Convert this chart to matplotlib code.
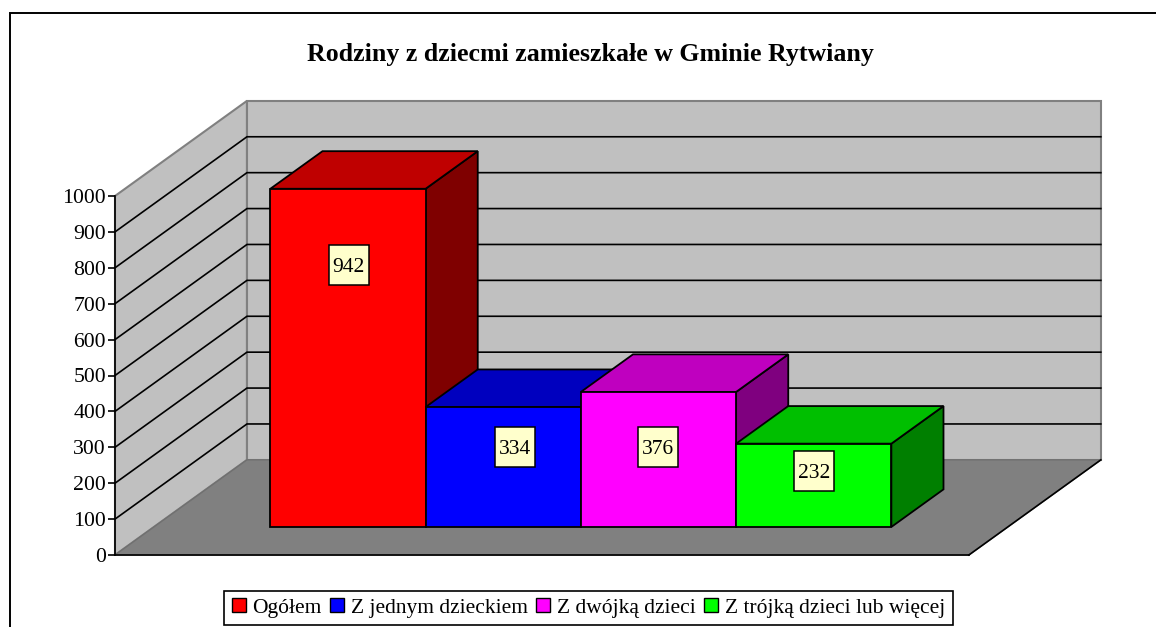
import matplotlib
matplotlib.use('Agg')
import matplotlib.pyplot as plt
from matplotlib.patches import Polygon, Rectangle, Patch

plt.rcParams['font.family'] = ['Liberation Serif', 'DejaVu Serif']

# data
series = ['Ogółem', 'Z jednym dzieckiem', 'Z dwójką dzieci', 'Z trójką dzieci lub więcej']
values = [942, 334, 376, 232]
front_colors = ['#FF0000', '#0000FF', '#FF00FF', '#00FF00']
top_colors = ['#BF0000', '#0000BF', '#BF00BF', '#00BF00']
side_colors = ['#7F0000', '#00007F', '#7F007F', '#007F00']
y_ticks = list(range(0, 1001, 100))

# where the value boxes sit (bar units, value units)
label_x = [1.505, 2.575, 3.495, 4.505]
label_y = [808, 301, 301, 234]

W, H = 1156, 627
px_x = 155.25   # pixels per bar width
px_y = 0.359    # pixels per value unit
x0_px, y0_px = 115, 555

# fake 3D: t goes from front (0) to back wall (1)
depth_x, depth_y = 0.85, 265
gap = 0.75
bar_t0, bar_t1 = 0.295, 0.69
floor_w = 5.5
y_max = 1000


def pt(x, v, t):
    return (x + depth_x * t, v + depth_y * t)


fig = plt.figure(figsize=(W / 100, H / 100), dpi=100)
ax = fig.add_axes([0, 0, 1, 1])
ax.set_xlim(-x0_px / px_x, (W - x0_px) / px_x)
ax.set_ylim((y0_px - H) / px_y, y0_px / px_y)
ax.patch.set_visible(False)

# walls and floor
ax.add_patch(Polygon([pt(0, 0, 0), pt(0, y_max, 0), pt(0, y_max, 1), pt(0, 0, 1)],
                     fc='#C0C0C0', ec='#808080', lw=1.5, zorder=1))
ax.add_patch(Polygon([pt(0, 0, 1), pt(0, y_max, 1), pt(floor_w, y_max, 1), pt(floor_w, 0, 1)],
                     fc='#C0C0C0', ec='#808080', lw=1.5, zorder=1))
ax.add_patch(Polygon([pt(0, 0, 0), pt(0, 0, 1), pt(floor_w, 0, 1), pt(floor_w, 0, 0)],
                     fc='#808080', ec='#707070', lw=1, zorder=1.2))
for v in y_ticks[1:-1]:
    a, b, c = pt(0, v, 0), pt(0, v, 1), pt(floor_w, v, 1)
    ax.plot([a[0], b[0], c[0]], [a[1], b[1], c[1]], color='black', lw=1.2, zorder=1.1,
            solid_joinstyle='miter')
a, b = pt(floor_w, 0, 0), pt(floor_w, 0, 1)
ax.plot([a[0], b[0]], [a[1], b[1]], color='black', lw=1.2, zorder=1.3)

# bars, left to right so that later ones cover earlier ones
for i, val in enumerate(values):
    x1, x2 = gap + i, gap + i + 1
    z = 2 + i * 0.1
    ax.add_patch(Polygon([pt(x2, 0, bar_t0), pt(x2, 0, bar_t1), pt(x2, val, bar_t1), pt(x2, val, bar_t0)],
                         fc=side_colors[i], ec='black', lw=1.3, zorder=z))
    ax.add_patch(Polygon([pt(x1, val, bar_t0), pt(x1, val, bar_t1), pt(x2, val, bar_t1), pt(x2, val, bar_t0)],
                         fc=top_colors[i], ec='black', lw=1.3, zorder=z))
    ax.add_patch(Polygon([pt(x1, 0, bar_t0), pt(x1, val, bar_t0), pt(x2, val, bar_t0), pt(x2, 0, bar_t0)],
                         fc=front_colors[i], ec='black', lw=1.3, zorder=z))

# value boxes
box_w = 40 / px_x
box_h = 40 / px_y
for i, val in enumerate(values):
    ax.add_patch(Rectangle((label_x[i] - box_w / 2, label_y[i] - box_h / 2), box_w, box_h,
                           fc='#FFFFCC', ec='black', lw=1.1, zorder=4))
    ax.text(label_x[i], label_y[i], str(val), fontsize=15.5, ha='center', va='center_baseline', zorder=5)

# axis
for s in ['top', 'right']:
    ax.spines[s].set_visible(False)
ax.spines['left'].set_position(('data', 0))
ax.spines['left'].set_bounds(0, y_max)
ax.spines['bottom'].set_position(('data', 0))
ax.spines['bottom'].set_bounds(0, floor_w)
ax.spines['left'].set_linewidth(1.2)
ax.spines['bottom'].set_linewidth(1.2)
ax.set_xticks([])
ax.set_yticks(y_ticks)
ax.tick_params(axis='y', length=5, width=1.2, pad=1.5, labelsize=15.7)

# chart frame, open on the right and at the bottom
fig.add_artist(Rectangle((10 / W, -0.1), 1.1, 0.1 + (H - 13) / H, transform=fig.transFigure,
                         fc='none', ec='black', lw=1.4))

fig.text(590 / W, 1 - 55 / H, 'Rodziny z dziecmi zamieszkałe w Gminie Rytwiany',
         fontsize=18.6, fontweight='bold', ha='center', va='center')

handles = [Patch(fc=c, ec='black', lw=1) for c in front_colors]
leg = fig.legend(handles, series, ncol=4, loc='center', bbox_to_anchor=(588.5 / W, 1 - 608 / H),
                 fontsize=15.5, frameon=True, fancybox=False, edgecolor='black', framealpha=1,
                 handlelength=0.65, handleheight=0.65, handletextpad=0.3, columnspacing=0.4,
                 borderpad=0.35, borderaxespad=0)
leg.get_frame().set_linewidth(1.2)

fig.savefig('out.png', dpi=100)
